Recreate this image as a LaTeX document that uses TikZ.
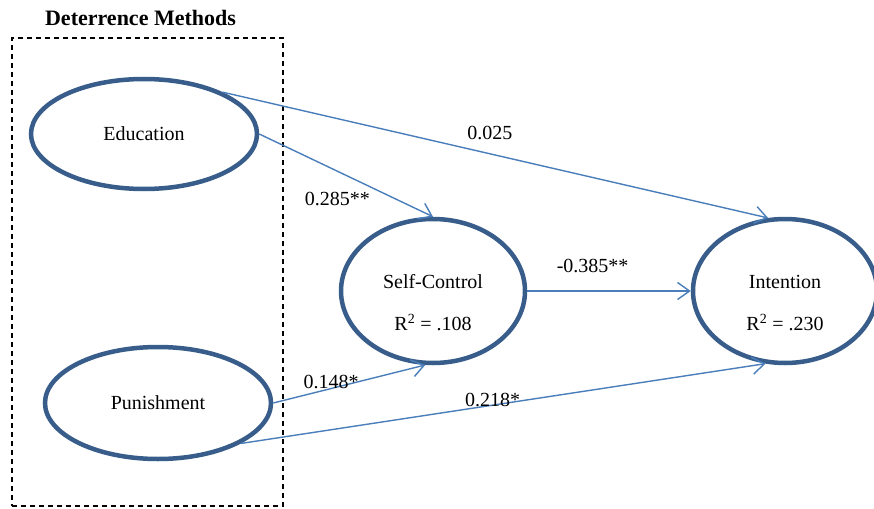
\documentclass[tikz,border=0pt]{standalone}
\usepackage{fontspec}
\setmainfont{Liberation Serif}
\usetikzlibrary{shapes.geometric,positioning,arrows.meta}

\definecolor{ovalblue}{RGB}{56,93,138}
\definecolor{pathblue}{RGB}{74,126,187}

\tikzset{
	latent/.style={ellipse, draw=ovalblue, line width=4.5pt, inner sep=0pt, align=center, font=\fontsize{20}{24}\selectfont},
	twoline/.style={text height=80pt},
	coef/.style={font=\fontsize{20}{24}\selectfont},
	groupbox/.style={draw=black, line width=1.5pt, dash pattern=on 5pt off 4pt, minimum width=271pt, minimum height=468pt, inner sep=0pt}
}

\begin{document}
\begin{tikzpicture}[x=1pt, y=-1pt, ->, >={Straight Barb[length=12pt,width=17pt]}, every edge/.style={draw=pathblue, line width=1.4pt}]
	\useasboundingbox (0,0) rectangle (874,508);

	\node[groupbox](box) at (147.5,272) {};
	\node[above=8pt of box.north, xshift=-7pt, font=\fontsize{22}{26}\selectfont\bfseries](title){Deterrence Methods};

	\node[latent, minimum width=226pt, minimum height=110pt](edu) at (144,134) {Education};
	\node[latent, minimum width=226pt, minimum height=112pt](pun) at (158,403) {Punishment};
	\node[latent, twoline, minimum width=184pt, minimum height=144pt](sc) at (433,291) {Self-Control\\[18pt]R\textsuperscript{2} = .108};
	\node[latent, twoline, minimum width=184pt, minimum height=144pt](int) at (785,291) {Intention\\[18pt]R\textsuperscript{2} = .230};

	\path
	(edu.28) edge 	node[coef, pos=.49, above=10pt] {0.025} (int.103)
	(edu.east) edge 	node[coef, pos=.66, below left] {0.285**} (sc.north)
	(sc.east) edge 	node[coef, pos=.40, above=14pt] {-0.385**} (int.west)
	(pun.east) edge 	node[coef, pos=.38, yshift=7pt] {0.148*} (sc.264)
	(pun.-26) edge 	node[coef, pos=.48, yshift=5pt] {0.218*} (int.255);
\end{tikzpicture}
\end{document}
